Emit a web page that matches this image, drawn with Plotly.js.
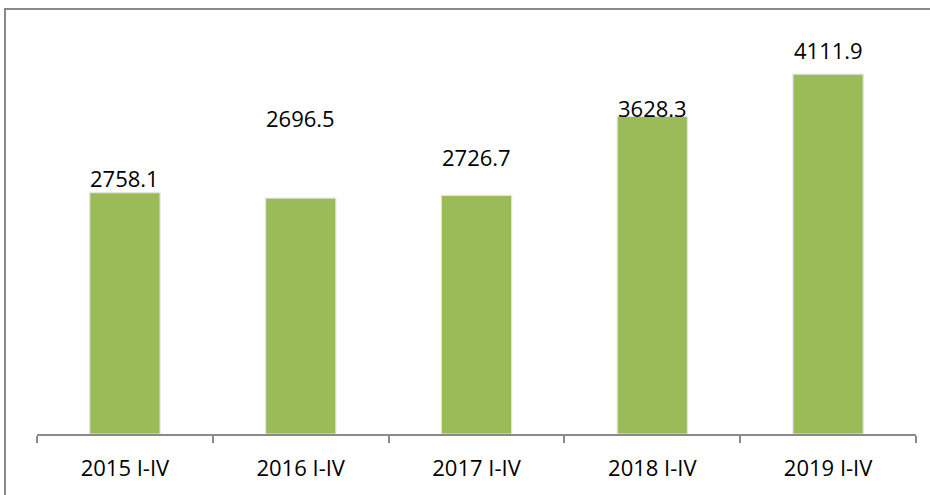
<!DOCTYPE html>
<html>
<head>
<meta charset="utf-8">
<script src="https://cdn.plot.ly/plotly-3.0.1.min.js"></script>
<style>
html,body{margin:0;padding:0;background:#fff;}
#chart{width:930px;height:495px;}
</style>
</head>
<body>
<div id="chart"></div>
<script>
// Data
var categories = ["2015 I-IV", "2016 I-IV", "2017 I-IV", "2018 I-IV", "2019 I-IV"];
var values = [2758.1, 2696.5, 2726.7, 3628.3, 4111.9];
var valueLabels = ["2758.1", "2696.5", "2726.7", "3628.3", "4111.9"];

// Style: label vertical offsets in pixels (layout only)
var labelShift = [15, 80, 38, 8, 24];

var FONT = "Open Sans, Noto Sans, sans-serif";

var trace = {
  type: "bar",
  x: categories,
  y: values,
  marker: {color: "#9BBB59", line: {color: "#e4e4e4", width: 1.2}},
  hoverinfo: "x+y"
};

var annotations = categories.map(function (c, i) {
  return {
    x: c, y: values[i], xref: "x", yref: "y",
    text: valueLabels[i], showarrow: false,
    yanchor: "middle", yshift: labelShift[i],
    font: {family: FONT, size: 22, color: "#000"}
  };
});

var L = 37, R = 14, T = 20, B = 61;
var W = 930 - L - R, H = 495 - T - B;
function px(x) { return (x - L) / W; }
function py(y) { return (495 - B - y) / H; }

var layout = {
  width: 930, height: 495,
  margin: {l: L, r: R, t: T, b: B, pad: 0},
  paper_bgcolor: "#fff", plot_bgcolor: "#fff",
  showlegend: false,
  bargap: 0.6,
  xaxis: {
    type: "category",
    range: [-0.5, 4.5],
    showline: true, linecolor: "#8a8a8a", linewidth: 2,
    ticks: "outside", tickson: "boundaries", ticklen: 7, tickwidth: 2, tickcolor: "#8a8a8a",
    showgrid: false, zeroline: false,
    ticklabelstandoff: 14,
    tickfont: {family: FONT, size: 22, color: "#000"}
  },
  yaxis: {
    range: [0, 4731],
    visible: false, showgrid: false, zeroline: false
  },
  annotations: annotations,
  shapes: [
    {type: "line", xref: "paper", yref: "paper", x0: px(4), x1: px(931), y0: py(9), y1: py(9),
     line: {color: "#888888", width: 2}},
    {type: "line", xref: "paper", yref: "paper", x0: px(5), x1: px(5), y0: py(9), y1: py(496),
     line: {color: "#888888", width: 2}}
  ]
};

Plotly.newPlot("chart", [trace], layout, {displayModeBar: false, staticPlot: true});
</script>
</body>
</html>
